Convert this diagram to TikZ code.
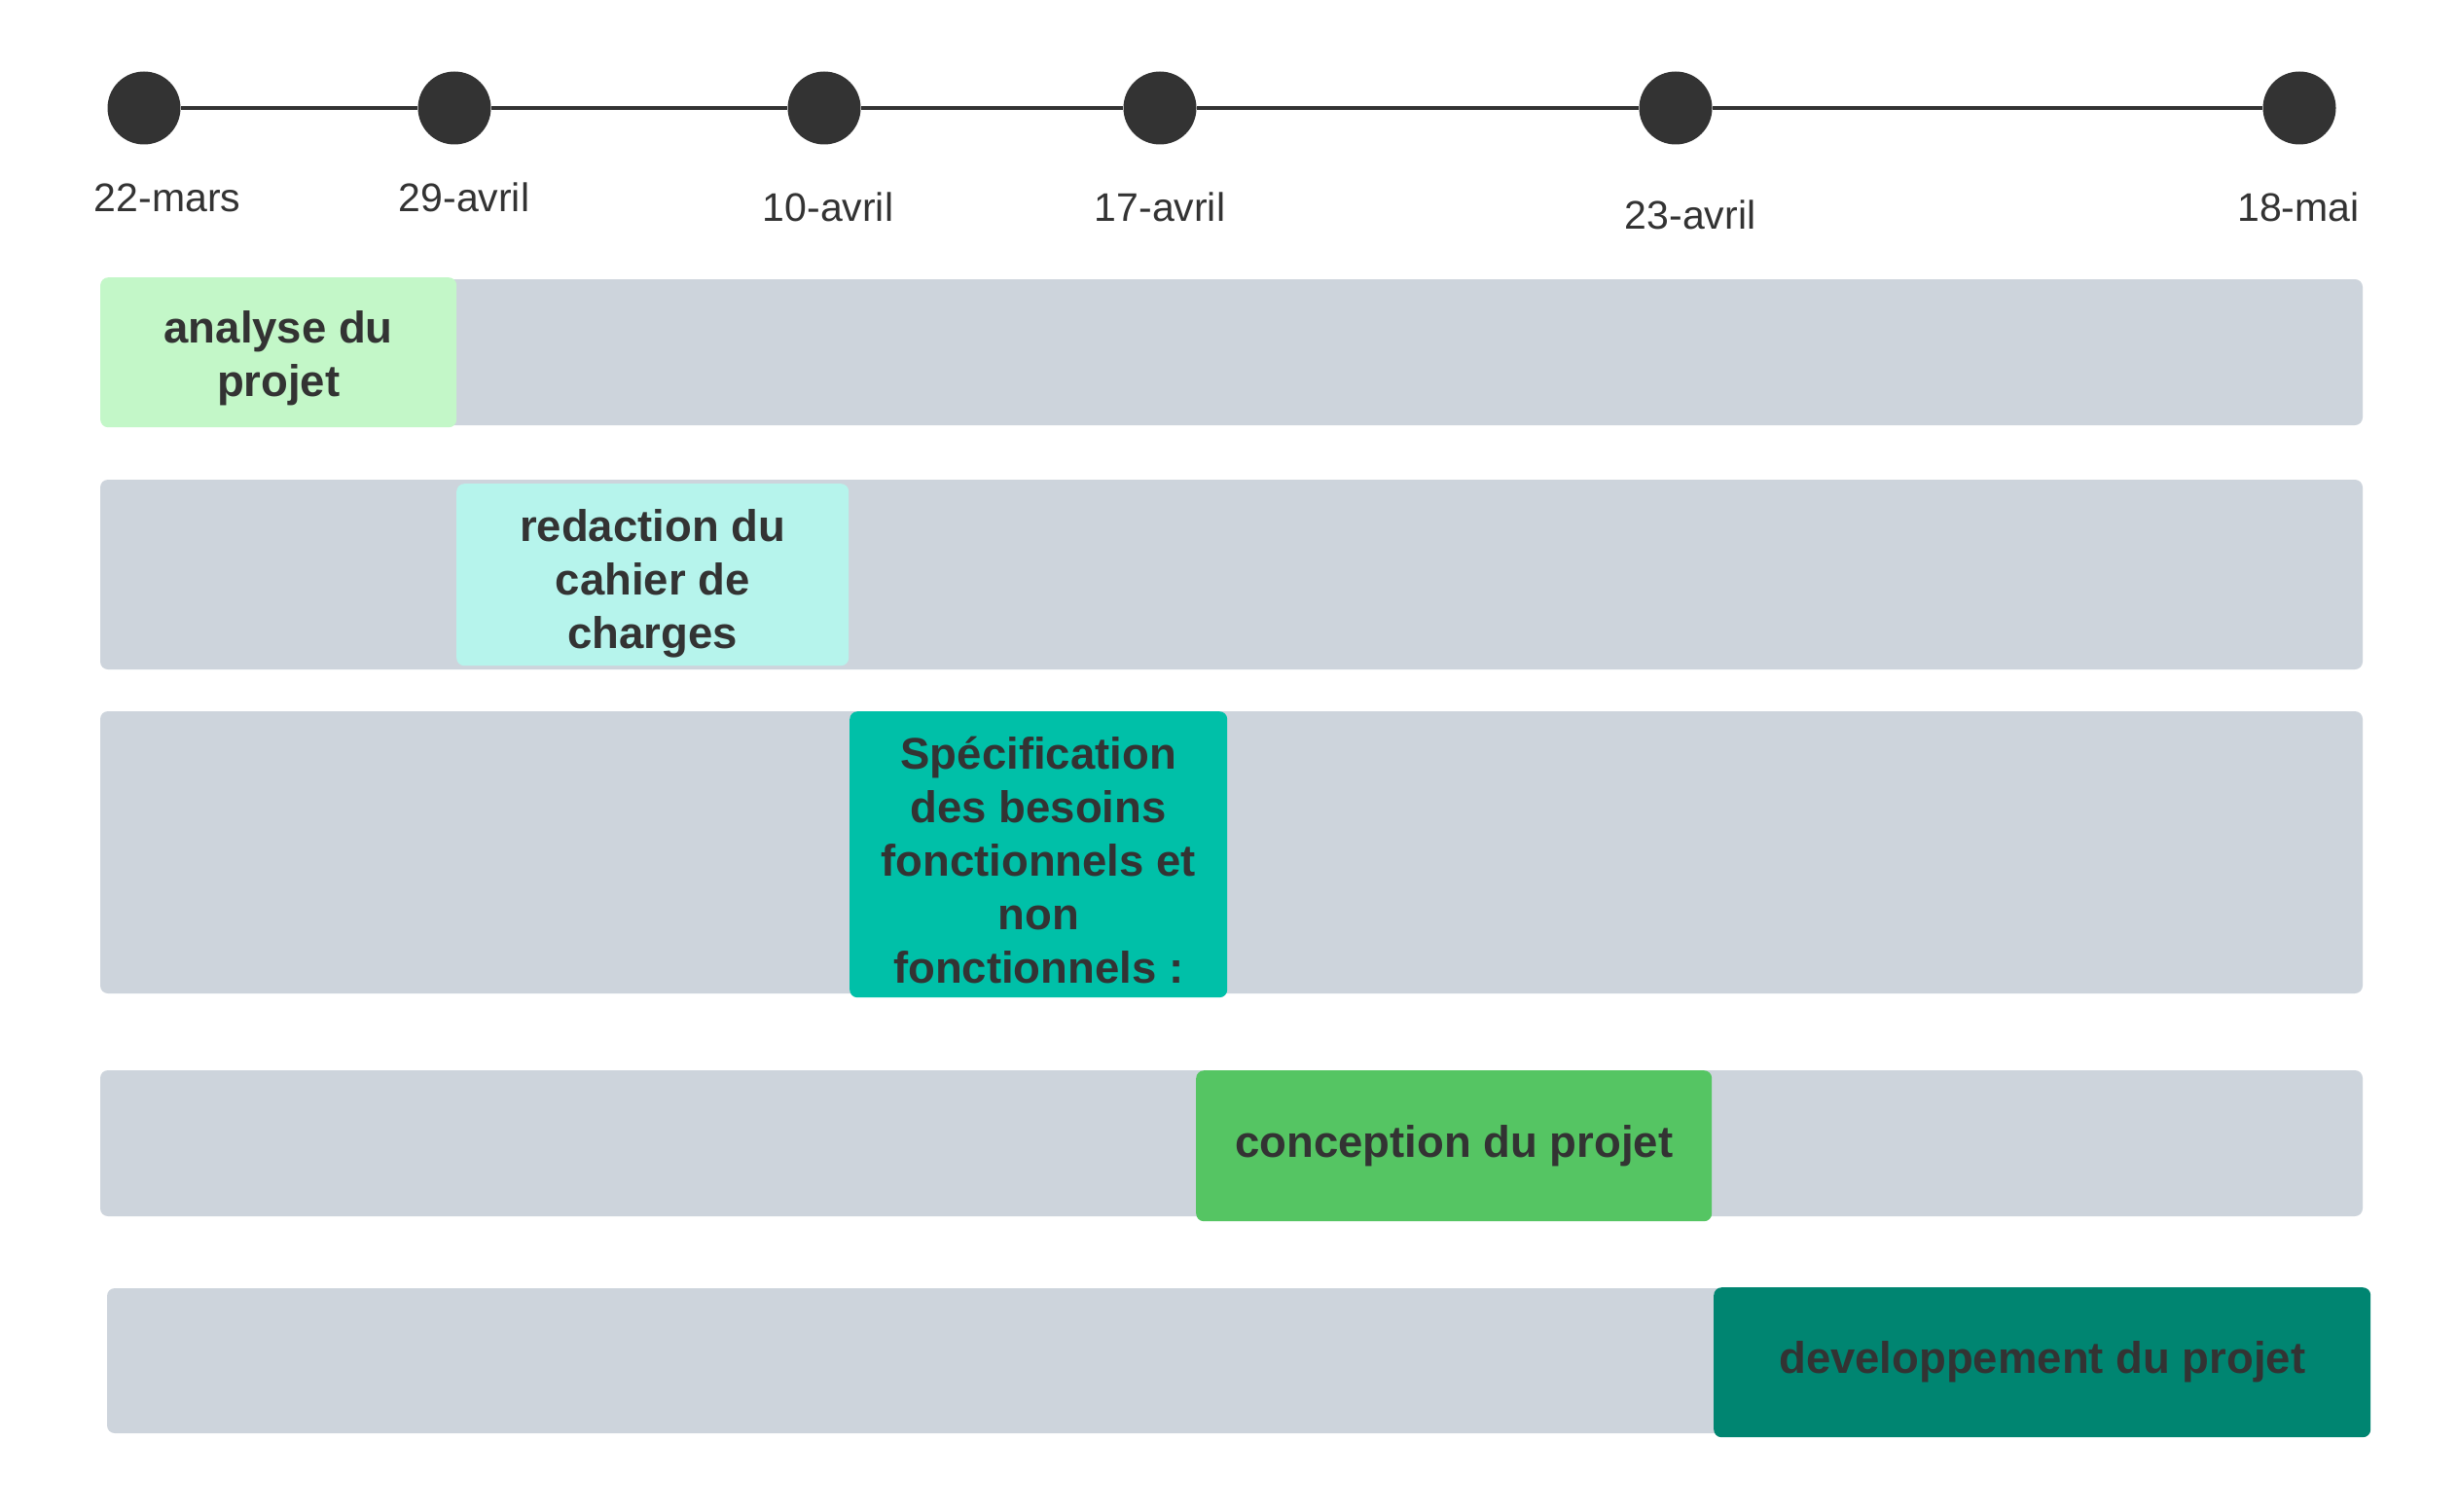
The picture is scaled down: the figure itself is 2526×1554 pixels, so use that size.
\documentclass[tikz,border=0pt]{standalone}
\usepackage{fontspec}
\setmainfont{Liberation Sans}
\definecolor{ink}{HTML}{333333}
\definecolor{track}{HTML}{CDD4DC}
\definecolor{cA}{HTML}{C3F7C8}
\definecolor{cB}{HTML}{B6F4EC}
\definecolor{cC}{HTML}{00C0A8}
\definecolor{cD}{HTML}{55C563}
\definecolor{cE}{HTML}{008571}
\tikzset{
  dot/.style={circle, fill=ink, minimum size=75pt, inner sep=0pt},
  datelbl/.style={text=ink, font=\fontsize{41}{49}\selectfont, inner sep=0pt},
  trackbar/.style={fill=track, rounded corners=8pt},
  taskbox/.style={rounded corners=8pt, anchor=north west, inner sep=0pt},
  tasktext/.style={inner sep=0pt, align=center, text=ink, font=\fontsize{45.5}{55}\selectfont\bfseries},
  tl/.style={draw=ink, line width=4pt}
}
\begin{document}
\begin{tikzpicture}[x=1pt,y=-1pt]
\useasboundingbox[fill=white] (0,0) rectangle (2526,1554);
% timeline
\node[dot] (c1) at (148,111) {};
\node[dot] (c2) at (467,111) {};
\node[dot] (c3) at (847,111) {};
\node[dot] (c4) at (1192,111) {};
\node[dot] (c5) at (1722,111) {};
\node[dot] (c6) at (2363,111) {};
\draw[tl] (c1) -- (c2);
\draw[tl] (c2) -- (c3);
\draw[tl] (c3) -- (c4);
\draw[tl] (c4) -- (c5);
\draw[tl] (c5) -- (c6);
\node[datelbl] (d1) at (172,203) {22-mars};
\node[datelbl] (d2) at (477,203) {29-avril};
\node[datelbl] (d3) at (851,213) {10-avril};
\node[datelbl] (d4) at (1192,213) {17-avril};
\node[datelbl] (d5) at (1737,221) {23-avril};
\node[datelbl] (d6) at (2362,213) {18-mai};
% tracks
\fill[trackbar] (103,287) rectangle (2428,437);
\fill[trackbar] (103,493) rectangle (2428,688);
\fill[trackbar] (103,731) rectangle (2428,1021);
\fill[trackbar] (103,1100) rectangle (2428,1250);
\fill[trackbar] (110,1324) rectangle (2428,1473);
% tasks
\node[taskbox, fill=cA, minimum width=366pt, minimum height=154pt] (t1) at (103,285) {};
\node[taskbox, fill=cB, minimum width=403pt, minimum height=187pt] (t2) at (469,497) {};
\node[taskbox, fill=cC, minimum width=388pt, minimum height=294pt] (t3) at (873,731) {};
\node[taskbox, fill=cD, minimum width=530pt, minimum height=155pt] (t4) at (1229,1100) {};
\node[taskbox, fill=cE, minimum width=675pt, minimum height=154pt] (t5) at (1761,1323) {};
\node[tasktext] (l1) at ([yshift=-6pt]t1.center) {analyse du\\projet};
\node[tasktext] (l2) at ([yshift=-9pt]t2.center) {redaction du\\cahier de\\charges};
\node[tasktext] (l3) at ([yshift=-6pt]t3.center) {Spécification\\des besoins\\fonctionnels et\\non\\fonctionnels :};
\node[tasktext] (l4) at (t4.center) {conception du projet};
\node[tasktext] (l5) at (t5.center) {developpement du projet};
\end{tikzpicture}
\end{document}
